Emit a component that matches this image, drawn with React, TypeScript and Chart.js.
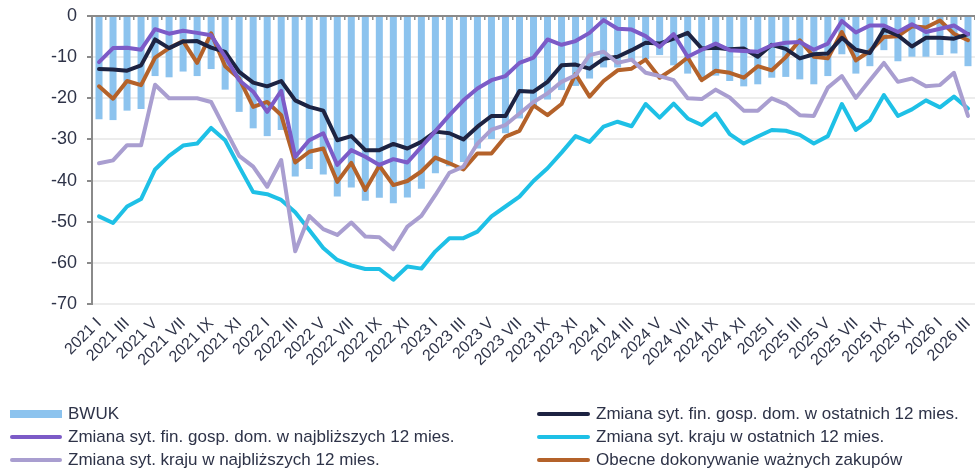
import React, { useEffect, useRef } from "react";
import { Chart, registerables } from "chart.js";

Chart.register(...registerables);

const FONT = "'Liberation Sans', Arial, sans-serif";
const TEXT = "#2e3348";

const YEARS = ["2021", "2022", "2023", "2024", "2025", "2026"];
const MONTHS = ["I", "II", "III", "IV", "V", "VI", "VII", "VIII", "IX", "X", "XI", "XII"];
const N_MONTHS = 63;
const CATEGORIES: string[] = YEARS.flatMap((y) => MONTHS.map((m) => `${y} ${m}`)).slice(0, N_MONTHS);

const Y_TICKS = [0, -10, -20, -30, -40, -50, -60, -70];

const BWUK = [
  -25.1, -25.3, -23.0, -22.6, -14.6, -14.9, -13.5, -14.6, -12.9, -17.9, -23.3, -27.3,
  -29.2, -27.7, -39.0, -37.2, -38.5, -43.9, -41.7, -44.9, -44.2, -45.5, -44.1, -42.0,
  -38.2, -36.5, -35.5, -32.2, -29.9, -28.5, -24.9, -22.1, -20.3, -18.0, -17.0, -15.2,
  -12.5, -12.5, -11.0, -10.5, -9.5, -12.0, -14.0, -15.5, -14.5, -15.8, -17.1, -16.6,
  -15.0, -14.8, -15.4, -16.6, -14.6, -9.3, -14.0, -12.2, -8.3, -11.0, -9.9, -9.9,
  -9.5, -9.1, -12.2,
];

const FIN_LAST12 = [
  -12.9, -13.0, -13.3, -12.0, -5.7, -7.8, -6.2, -6.1, -7.7, -8.7, -13.6, -16.2,
  -17.1, -15.8, -20.5, -22.1, -23.0, -30.2, -29.2, -32.6, -32.6, -31.1, -32.2, -30.6,
  -28.1, -28.5, -30.0, -26.9, -24.3, -24.3, -18.2, -18.4, -16.0, -12.0, -11.8, -12.8,
  -10.4, -9.9, -8.3, -6.5, -6.7, -5.5, -4.1, -7.9, -7.7, -8.1, -7.9, -9.9,
  -7.0, -8.0, -10.3, -9.3, -9.1, -5.3, -8.2, -9.0, -3.3, -4.7, -7.4, -5.3,
  -5.3, -5.5, -4.4,
];

const FIN_NEXT12 = [
  -11.2, -7.8, -7.7, -8.2, -3.2, -4.3, -3.6, -4.1, -4.7, -9.9, -15.6, -18.4,
  -23.3, -18.2, -34.2, -30.2, -28.5, -36.2, -32.6, -34.2, -36.2, -34.8, -35.6, -31.8,
  -28.0, -24.1, -20.5, -17.6, -15.6, -14.6, -11.4, -10.1, -5.7, -7.0, -6.1, -4.1,
  -1.0, -3.1, -3.3, -4.9, -7.5, -4.4, -9.9, -8.2, -6.7, -8.3, -8.5, -8.7,
  -7.1, -6.5, -6.3, -8.2, -6.7, -1.2, -4.0, -2.3, -2.3, -3.9, -2.0, -3.9,
  -3.1, -2.3, -4.4,
];

const COUNTRY_LAST12 = [
  -48.7, -50.3, -46.3, -44.5, -37.3, -34.0, -31.5, -31.0, -27.2, -30.2, -36.6, -42.8,
  -43.3, -44.7, -47.7, -52.0, -56.4, -59.3, -60.6, -61.5, -61.5, -64.1, -60.9, -61.4,
  -57.2, -54.0, -54.0, -52.4, -48.7, -46.3, -43.9, -40.1, -37.0, -33.2, -29.2, -30.6,
  -26.9, -25.7, -26.8, -21.4, -24.7, -21.3, -24.9, -26.5, -23.7, -28.7, -31.0, -29.3,
  -27.7, -27.9, -28.9, -31.0, -29.2, -21.4, -27.7, -25.3, -19.2, -24.3, -22.7, -20.5,
  -22.2, -19.6, -22.5,
];

const COUNTRY_NEXT12 = [
  -35.8, -35.1, -31.4, -31.4, -16.7, -20.0, -20.0, -20.0, -20.9, -27.5, -34.0, -36.6,
  -41.5, -35.0, -57.2, -48.6, -51.8, -53.2, -50.2, -53.6, -53.8, -56.7, -51.2, -48.6,
  -43.5, -38.1, -36.6, -31.0, -27.6, -26.5, -23.7, -20.9, -18.8, -16.0, -14.4, -9.5,
  -8.7, -11.4, -10.6, -13.8, -14.6, -15.6, -20.0, -20.2, -17.9, -19.8, -23.0, -23.0,
  -20.0, -21.4, -24.1, -24.3, -17.4, -14.6, -19.9, -15.6, -11.4, -16.0, -15.2, -17.1,
  -16.8, -13.8, -24.3,
];

const PURCHASES = [
  -17.1, -20.1, -15.8, -16.8, -10.1, -7.8, -6.1, -11.4, -4.2, -12.2, -15.2, -22.1,
  -20.9, -24.1, -35.6, -33.0, -32.2, -40.3, -35.7, -42.3, -36.4, -41.1, -40.1, -37.8,
  -34.4, -35.8, -37.3, -33.4, -33.4, -29.3, -27.9, -21.7, -24.1, -21.4, -14.1, -19.6,
  -15.8, -13.2, -12.8, -10.6, -15.0, -12.8, -10.1, -15.6, -13.3, -13.8, -15.0, -12.2,
  -13.2, -10.0, -5.9, -9.9, -10.3, -3.9, -10.8, -8.5, -5.1, -4.9, -2.5, -2.8,
  -1.1, -4.3, -5.9,
];

const C_BAR = "#8cc3ee";
const C_NAVY = "#1d2342";
const C_PURPLE = "#7c5bc7";
const C_CYAN = "#1ec0e6";
const C_LAV = "#a99ed0";
const C_ORANGE = "#b4622a";

const LEGEND_LEFT = [
  { label: "BWUK", color: C_BAR, bar: true },
  { label: "Zmiana syt. fin. gosp. dom. w najbliższych 12 mies.", color: C_PURPLE, bar: false },
  { label: "Zmiana syt. kraju w najbliższych 12 mies.", color: C_LAV, bar: false },
];
const LEGEND_RIGHT = [
  { label: "Zmiana syt. fin. gosp. dom. w ostatnich 12 mies.", color: C_NAVY, bar: false },
  { label: "Zmiana syt. kraju w ostatnich 12 mies.", color: C_CYAN, bar: false },
  { label: "Obecne dokonywanie ważnych zakupów", color: C_ORANGE, bar: false },
];

const W = 975;
const H = 469;

function line(label: string, data: number[], color: string) {
  return {
    type: "line" as const,
    label,
    data,
    borderColor: color,
    backgroundColor: color,
    borderWidth: 4,
    pointRadius: 0,
    tension: 0,
    borderJoinStyle: "round" as const,
    borderCapStyle: "round" as const,
    order: 1,
  };
}

function LegendColumn({ items, left, sampleW }: { items: any[]; left: number; sampleW: number }) {
  return (
    <div style={{ position: "absolute", left, top: 402 }}>
      {items.map((it, i) => (
        <div key={i} style={{ display: "flex", alignItems: "center", height: 23 }}>
          <div
            style={{
              width: sampleW,
              height: it.bar ? 8 : 4,
              background: it.color,
              borderRadius: it.bar ? 0 : 2,
              marginRight: 6,
            }}
          />
          <span style={{ fontFamily: FONT, fontSize: 17, color: TEXT, whiteSpace: "nowrap" }}>{it.label}</span>
        </div>
      ))}
    </div>
  );
}

export default function App() {
  const ref = useRef<HTMLCanvasElement | null>(null);

  useEffect(() => {
    if (!ref.current) return;
    const chart = new Chart(ref.current, {
      type: "bar",
      data: {
        labels: CATEGORIES,
        datasets: [
          {
            type: "bar",
            label: "BWUK",
            data: BWUK,
            backgroundColor: C_BAR,
            barPercentage: 0.5,
            categoryPercentage: 1,
            order: 10,
          } as any,
          line("Zmiana syt. kraju w najbliższych 12 mies.", COUNTRY_NEXT12, C_LAV),
          line("Zmiana syt. kraju w ostatnich 12 mies.", COUNTRY_LAST12, C_CYAN),
          line("Zmiana syt. fin. gosp. dom. w najbliższych 12 mies.", FIN_NEXT12, C_PURPLE),
          line("Zmiana syt. fin. gosp. dom. w ostatnich 12 mies.", FIN_LAST12, C_NAVY),
          line("Obecne dokonywanie ważnych zakupów", PURCHASES, C_ORANGE),
        ],
      },
      options: {
        animation: false,
        responsive: false,
        devicePixelRatio: 1,
        layout: { padding: { top: 16, right: 0, bottom: 85, left: 0 } },
        plugins: { legend: { display: false }, tooltip: { enabled: false } },
        scales: {
          x: {
            type: "category",
            position: "bottom",
            offset: true,
            grid: { display: false, drawTicks: false },
            border: { display: false },
            ticks: {
              autoSkip: false,
              maxRotation: 45,
              minRotation: 45,
              padding: 10,
              color: TEXT,
              font: { family: FONT, size: 16 },
              callback: (_v: any, i: number) => (i % 2 === 0 ? CATEGORIES[i] : ""),
            },
            afterFit: (s: any) => {
              s.height = 80;
              s.paddingRight = 0;
              s.paddingLeft = 0;
            },
          },
          x2: {
            type: "category",
            position: "top",
            offset: true,
            grid: {
              display: true,
              drawOnChartArea: false,
              offset: true,
              tickLength: -4,
              color: "#8a8a8a",
              tickColor: "#8a8a8a",
              lineWidth: 1.5,
            },
            border: { display: true, color: "#8a8a8a", width: 2 },
            ticks: { display: false },
            afterFit: (s: any) => {
              s.height = 0;
              s.paddingRight = 0;
              s.paddingLeft = 0;
            },
          },
          y: {
            min: -70,
            max: 0,
            afterBuildTicks: (s: any) => {
              s.ticks = Y_TICKS.map((v) => ({ value: v }));
            },
            ticks: {
              padding: 10,
              color: TEXT,
              font: { family: FONT, size: 18 },
              callback: (v: any) => String(v),
            },
            grid: { color: "#ececec", lineWidth: 2, tickColor: "#8a8a8a", tickLength: 5 },
            border: { color: "#8a8a8a", width: 2 },
            afterFit: (s: any) => {
              s.width = 92;
              s.paddingTop = 0;
              s.paddingBottom = 0;
            },
          },
        } as any,
      },
    } as any);
    return () => chart.destroy();
  }, []);

  return (
    <div style={{ position: "fixed", left: 0, top: 0, width: W, height: H, background: "#fff" }}>
      <canvas ref={ref} width={W} height={H} style={{ position: "absolute", left: 0, top: 0 }} />
      <LegendColumn items={LEGEND_LEFT} left={10} sampleW={52} />
      <LegendColumn items={LEGEND_RIGHT} left={537} sampleW={53} />
    </div>
  );
}
